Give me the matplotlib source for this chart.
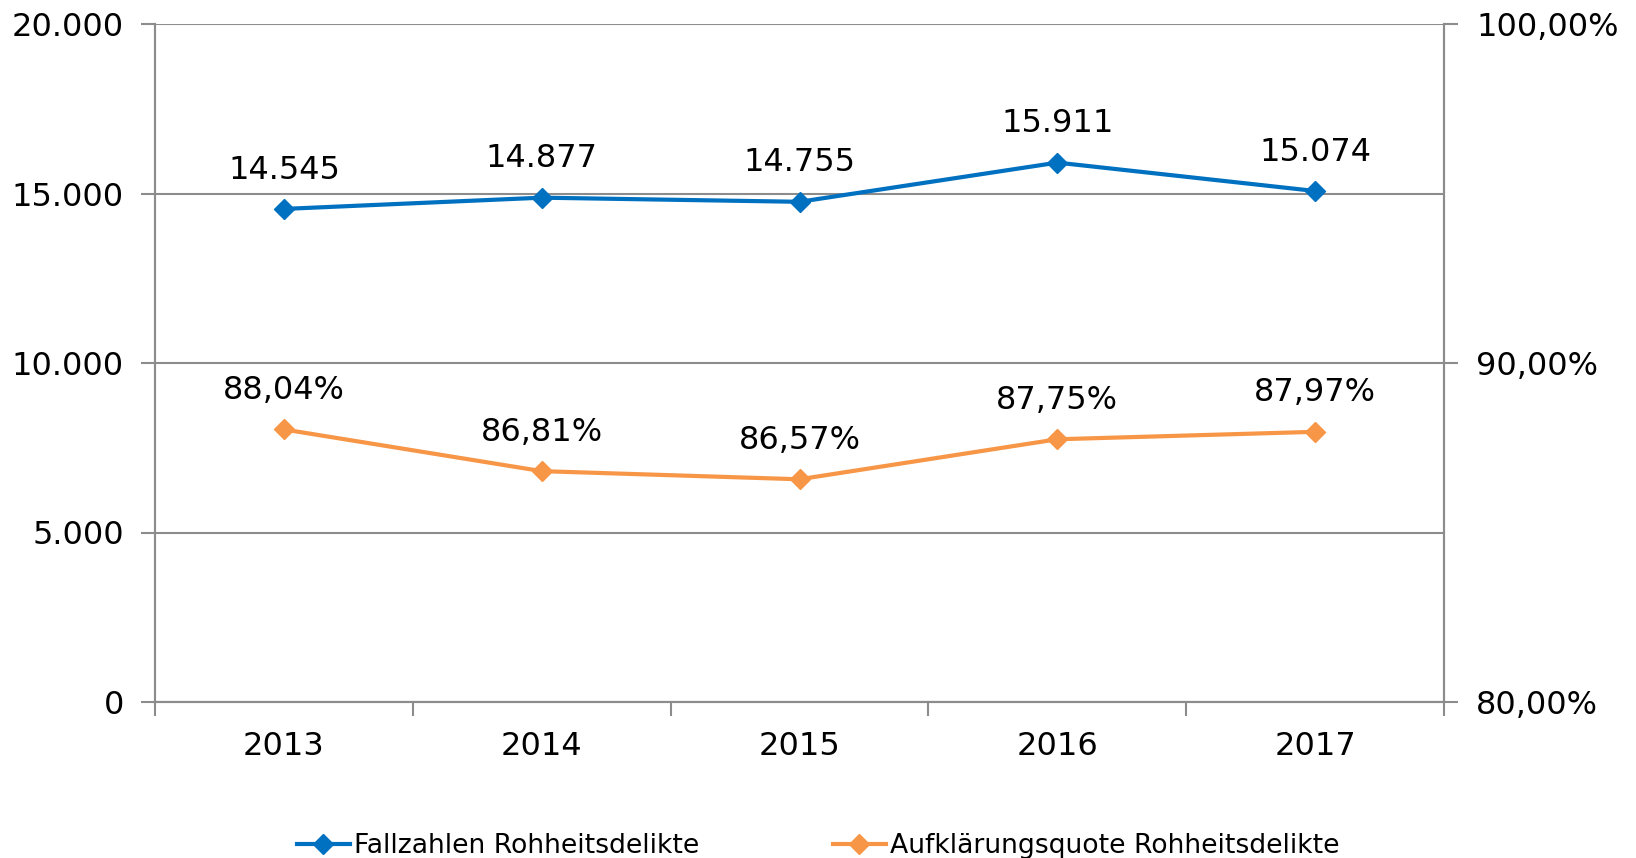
import matplotlib
matplotlib.use("Agg")
import matplotlib.pyplot as plt
from matplotlib.ticker import FixedLocator

years = ["2013", "2014", "2015", "2016", "2017"]
fallzahlen = [14545, 14877, 14755, 15911, 15074]
quote = [88.04, 86.81, 86.57, 87.75, 87.97]
left_ticks = [0, 5000, 10000, 15000, 20000]
left_labels = ["0", "5.000", "10.000", "15.000", "20.000"]
right_ticks = [80, 90, 100]
right_labels = ["80,00%", "90,00%", "100,00%"]
name_fall = "Fallzahlen Rohheitsdelikte"
name_quote = "Aufklärungsquote Rohheitsdelikte"

blue = "#0070C0"
orange = "#F79646"
grey = "#8C8C8C"
fs = 23

plt.rcParams['font.family'] = ['DejaVu Sans']

fig = plt.figure(figsize=(16.36, 8.58), dpi=100)
ax = fig.add_axes([155/1636, 1-702/858, (1444-155)/1636, (702-24)/858])
ax2 = ax.twinx()

x = list(range(len(years)))
l1, = ax.plot(x, fallzahlen, color=blue, lw=3.0, marker='D', ms=10, label=name_fall, zorder=5)
l2, = ax2.plot(x, quote, color=orange, lw=3.0, marker='D', ms=10, label=name_quote, zorder=5)

ax.set_xlim(-0.5, len(years) - 0.5)
ax.set_ylim(0, 20000)
ax2.set_ylim(80, 100)

ax.set_yticks(left_ticks)
ax.set_yticklabels(left_labels, fontsize=fs)
ax2.set_yticks(right_ticks)
ax2.set_yticklabels(right_labels, fontsize=fs)

ax.set_xticks(x)
ax.set_xticklabels(years, fontsize=fs)
ax.xaxis.set_minor_locator(FixedLocator([i - 0.5 for i in range(len(years) + 1)]))
ax.tick_params(axis='x', which='major', length=0, pad=21)
ax.tick_params(axis='x', which='minor', length=10, width=1.5, color=grey)
ax.tick_params(axis='y', length=10, width=1.5, color=grey, pad=12.5)
ax2.tick_params(axis='y', length=10, width=1.5, color=grey, pad=13)

ax.grid(axis='y', color=grey, lw=1.5)
ax.set_axisbelow(True)
for a in (ax, ax2):
    a.spines['top'].set_visible(False)
    for s in ['left', 'right', 'bottom']:
        a.spines[s].set_color(grey)
        a.spines[s].set_linewidth(1.5)

for xi, v in zip(x, fallzahlen):
    ax.annotate(f"{v:,}".replace(",", "."), (xi, v), xytext=(0, 28), textcoords='offset points',
                ha='center', va='center', fontsize=fs)
for xi, v in zip(x, quote):
    ax2.annotate(f"{v:.2f}".replace(".", ",") + "%", (xi, v), xytext=(0, 28), textcoords='offset points',
                 ha='center', va='center', fontsize=fs)

fig.legend([l1, l2], [name_fall, name_quote], loc='center', bbox_to_anchor=(0.5, 1-846/858),
           ncol=2, frameon=False, fontsize=19.2, handlelength=2.0, handletextpad=0.15,
           columnspacing=5.0, borderaxespad=0, borderpad=0)

fig.savefig("out.png", dpi=100)
